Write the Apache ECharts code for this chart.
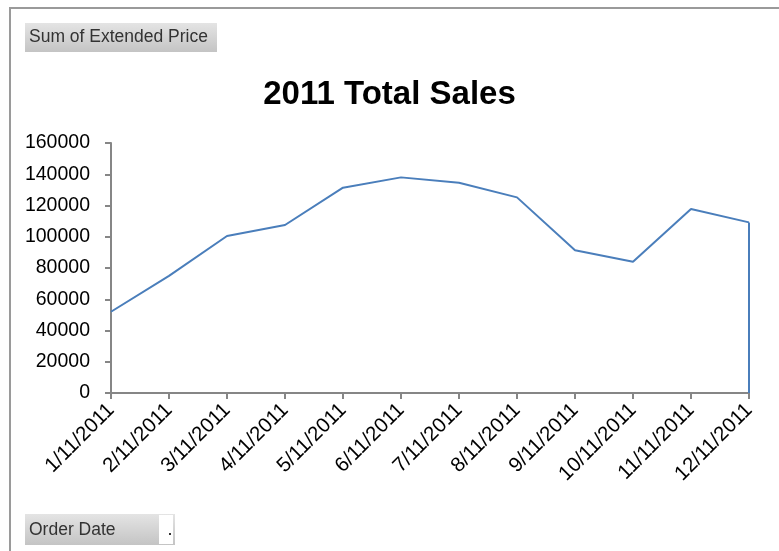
<!DOCTYPE html>
<html>
<head>
<meta charset="utf-8">
<script src="https://cdn.jsdelivr.net/npm/echarts@6/dist/echarts.min.js"></script>
<style>
html,body{margin:0;padding:0;background:#fff;}
#c{width:779px;height:551px;}
</style>
</head>
<body>
<div id="c"></div>
<script>
const categories = ['1/11/2011','2/11/2011','3/11/2011','4/11/2011','5/11/2011','6/11/2011','7/11/2011','8/11/2011','9/11/2011','10/11/2011','11/11/2011','12/11/2011'];
const sales = [52000, 75000, 100500, 107500, 131400, 138000, 134600, 125200, 91300, 84000, 117800, 109200];
const yTicks = { min: 0, max: 160000, interval: 20000 };

const chart = echarts.init(document.getElementById('c'), null, {renderer: 'canvas'});
const FONT = 'Liberation Sans';
const btnGrad = new echarts.graphic.LinearGradient(0, 0, 0, 1, [
  {offset: 0, color: '#e4e4e4'}, {offset: 1, color: '#c4c4c4'}
]);
const lastCat = categories[categories.length - 1];
const lastVal = sales[sales.length - 1];

chart.setOption({
  animation: false,
  backgroundColor: '#ffffff',
  title: {
    text: '2011 Total Sales',
    left: 'center',
    top: 73,
    textStyle: {fontFamily: FONT, fontSize: 33, fontWeight: 'bold', color: '#000'}
  },
  grid: {left: 111, right: 30, top: 143, bottom: 158, containLabel: false},
  xAxis: {
    type: 'category',
    data: categories,
    boundaryGap: false,
    axisLine: {show: true, lineStyle: {color: '#868686', width: 2}},
    axisTick: {show: true, alignWithLabel: true, length: 6, lineStyle: {color: '#868686', width: 2}},
    axisLabel: {rotate: 45, interval: 0, fontFamily: FONT, fontSize: 20.5, color: '#000', margin: 14},
    splitLine: {show: false}
  },
  yAxis: {
    type: 'value',
    min: yTicks.min, max: yTicks.max, interval: yTicks.interval,
    axisLine: {show: true, lineStyle: {color: '#868686', width: 2}},
    axisTick: {show: true, length: 6, lineStyle: {color: '#868686', width: 2}},
    axisLabel: {fontFamily: FONT, fontSize: 19.5, color: '#000', margin: 21, formatter: v => String(v)},
    splitLine: {show: false}
  },
  series: [{
    type: 'line',
    data: sales,
    showSymbol: false,
    symbol: 'none',
    lineStyle: {color: '#4a7ebb', width: 2},
    markLine: {
      silent: true,
      symbol: 'none',
      label: {show: false},
      lineStyle: {color: '#4a7ebb', width: 2, type: 'solid'},
      data: [[{coord: [lastCat, lastVal]}, {coord: [lastCat, 0]}]]
    }
  }],
  graphic: [
    {type: 'rect', shape: {x: 10, y: 8, width: 800, height: 600}, style: {fill: 'none', stroke: '#9a9a9a', lineWidth: 2}, silent: true},
    {type: 'rect', shape: {x: 25, y: 23, width: 192, height: 29}, style: {fill: btnGrad}},
    {type: 'text', x: 29, y: 37.5, style: {text: 'Sum of Extended Price', font: '17.5px "Liberation Sans"', fill: '#333', verticalAlign: 'middle'}},
    {type: 'rect', shape: {x: 25, y: 514, width: 150, height: 31}, style: {fill: btnGrad}},
    {type: 'rect', shape: {x: 159, y: 515, width: 14, height: 29}, style: {fill: '#ffffff'}},
    {type: 'rect', shape: {x: 169, y: 533, width: 2, height: 2}, style: {fill: '#333'}},
    {type: 'text', x: 29, y: 530, style: {text: 'Order Date', font: '17.5px "Liberation Sans"', fill: '#333', verticalAlign: 'middle'}}
  ]
});
</script>
</body>
</html>
